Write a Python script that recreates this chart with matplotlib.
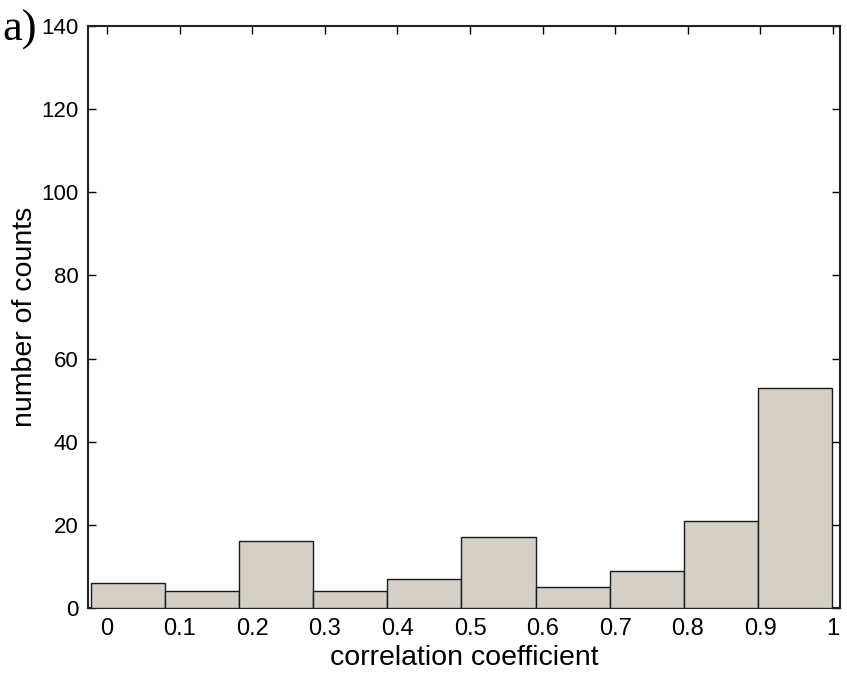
import numpy as np
import matplotlib.pyplot as plt

# histogram of correlation coefficients (10 bins over 0..1)
bin_edges = [0.0, 0.1, 0.2, 0.3, 0.4, 0.5, 0.6, 0.7, 0.8, 0.9, 1.0]
counts = [6, 4, 16, 4, 7, 17, 5, 9, 21, 53]
xticks = [0, 0.1, 0.2, 0.3, 0.4, 0.5, 0.6, 0.7, 0.8, 0.9, 1]
xtick_labels = ["0", "0.1", "0.2", "0.3", "0.4", "0.5", "0.6", "0.7", "0.8", "0.9", "1"]
yticks = [0, 20, 40, 60, 80, 100, 120, 140]

plt.rcParams["font.family"] = ["Liberation Sans", "DejaVu Sans"]

fig = plt.figure(figsize=(8.47, 6.85), dpi=100)
rect = [88 / 847, 77 / 685, 752 / 847, 582 / 685]

# axis that carries the frame and tick labels
ax = fig.add_axes(rect)
ax.set_xlim(-0.0262, 1.0096)
ax.set_ylim(0, 140)
ax.set_xticks(xticks)
ax.set_xticklabels(xtick_labels, fontsize=17)
ax.set_yticks(yticks)
ax.tick_params(axis="y", labelsize=16)
ax.tick_params(direction="in", length=6, width=1, top=True, right=True, pad=7)
ax.tick_params(axis="x", bottom=False)
for s in ax.spines.values():
    s.set_linewidth(1.5)
    s.set_color("#222222")
ax.set_xlabel("correlation coefficient", fontsize=20.5, labelpad=4)
ax.set_ylabel("number of counts", fontsize=20.5, labelpad=2)

# overlaid axis with the bars (slightly different x scale, as in the original)
ax2 = fig.add_axes(rect, sharey=ax)
ax2.patch.set_alpha(0)
ax2.set_xlim(-0.004, 1.0108)
lefts = np.array(bin_edges[:-1])
widths = np.diff(bin_edges)
ax2.bar(lefts, counts, width=widths, align="edge", color="#d4d0c8",
        edgecolor="#1a1a1a", linewidth=1.0)
ax2.axis("off")

fig.text(2 / 847, 1 - 30 / 685, "a)", family="Liberation Serif", fontsize=32,
         va="center", ha="left")

fig.savefig("out.png", dpi=100)
